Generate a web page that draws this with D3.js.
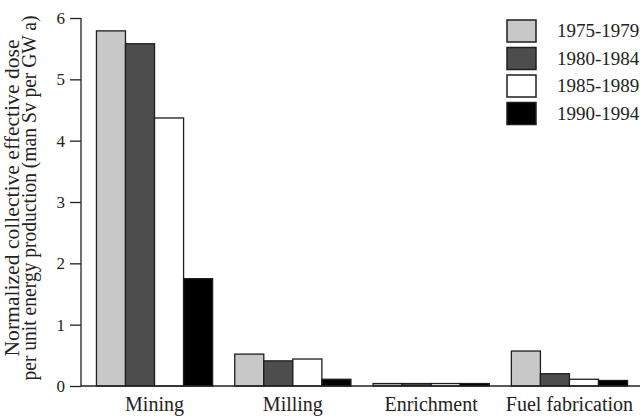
<!DOCTYPE html>
<html>
<head>
<meta charset="utf-8">
<script src="https://cdn.jsdelivr.net/npm/d3@7"></script>
<style>
  html, body { margin: 0; padding: 0; background: #fff; }
  svg { display: block; }
  text { font-family: "Liberation Serif", "Times New Roman", serif; fill: #222; }
</style>
</head>
<body>
<svg id="chart" width="643" height="420"></svg>
<script>
// Normalized collective effective dose per unit energy production (man Sv per GW a)
const stages = ["Mining", "Milling", "Enrichment", "Fuel fabrication"];
const periods = ["1975-1979", "1980-1984", "1985-1989", "1990-1994"];
const dose1975 = [5.79, 0.52, 0.04, 0.57];
const dose1980 = [5.58, 0.41, 0.04, 0.20];
const dose1985 = [4.37, 0.44, 0.04, 0.11];
const dose1990 = [1.75, 0.11, 0.04, 0.09];
const yTicks = [0, 1, 2, 3, 4, 5, 6];
const fills = ["#c8c8c8", "#4d4d4d", "#ffffff", "#000000"];

const seriesValues = [dose1975, dose1980, dose1985, dose1990];
const rows = stages.map((s, i) => ({
  stage: s,
  values: periods.map((p, j) => ({ period: p, value: seriesValues[j][i] }))
}));

const svg = d3.select("#chart");
const axisX = 81, baseY = 386, topY = 18, rightX = 640;

const x0 = d3.scaleBand().domain(stages).range([84, rightX])
  .paddingInner(0.16).paddingOuter(0.09);
const x1 = d3.scaleBand().domain(periods).range([0, x0.bandwidth()]);
const y = d3.scaleLinear().domain([0, 6]).range([baseY, topY]);
const color = d3.scaleOrdinal().domain(periods).range(fills);

// bars
const groups = svg.append("g").selectAll("g").data(rows).join("g")
  .attr("transform", d => `translate(${x0(d.stage)},0)`);
groups.selectAll("rect").data(d => d.values).join("rect")
  .attr("x", d => x1(d.period))
  .attr("width", x1.bandwidth())
  .attr("y", d => y(d.value))
  .attr("height", d => baseY - y(d.value))
  .attr("fill", d => color(d.period))
  .attr("stroke", "#1e1e1e")
  .attr("stroke-width", 1.3);

// y axis
const yAxis = svg.append("g").attr("transform", `translate(${axisX},0)`)
  .call(d3.axisLeft(y).tickValues(yTicks).tickFormat(d3.format("d")).tickSize(11).tickPadding(5));
yAxis.select(".domain").attr("stroke", "#222").attr("stroke-width", 1.3).attr("d", `M0,${topY}V${baseY}`);
yAxis.selectAll(".tick line").attr("stroke", "#222").attr("stroke-width", 1.3);
yAxis.selectAll(".tick text").attr("font-size", 17).attr("fill", "#222")
  .attr("font-family", "Liberation Serif, serif");

// x axis baseline and category labels
const xAxis = svg.append("g").attr("transform", `translate(0,${baseY})`)
  .call(d3.axisBottom(x0).tickSize(0).tickPadding(0));
xAxis.select(".domain").attr("stroke", "#222").attr("stroke-width", 1.3).attr("d", `M${axisX},0H${rightX}`);
xAxis.selectAll(".tick text").attr("font-size", 20).attr("fill", "#222")
  .attr("font-family", "Liberation Serif, serif")
  .attr("dy", null).attr("y", 25);

// y axis title (two lines)
const yTitle = [
  { text: "Normalized collective effective dose", x: 19, len: 317 },
  { text: "per unit energy production (man Sv per GW a)", x: 36, len: 365 }
];
svg.append("g").selectAll("text").data(yTitle).join("text")
  .attr("transform", d => `translate(${d.x},198) rotate(-90)`)
  .attr("text-anchor", "middle")
  .attr("font-size", 20)
  .attr("textLength", d => d.len)
  .attr("lengthAdjust", "spacingAndGlyphs")
  .text(d => d.text);

// legend
const legend = svg.append("g").selectAll("g").data(periods).join("g")
  .attr("transform", (d, i) => `translate(507,${20 + i * 27.5})`);
legend.append("rect")
  .attr("width", 29).attr("height", 22)
  .attr("fill", d => color(d))
  .attr("stroke", "#1e1e1e").attr("stroke-width", 1.5);
legend.append("text")
  .attr("x", 50).attr("y", 17)
  .attr("font-size", 19)
  .text(d => d);
</script>
</body>
</html>
